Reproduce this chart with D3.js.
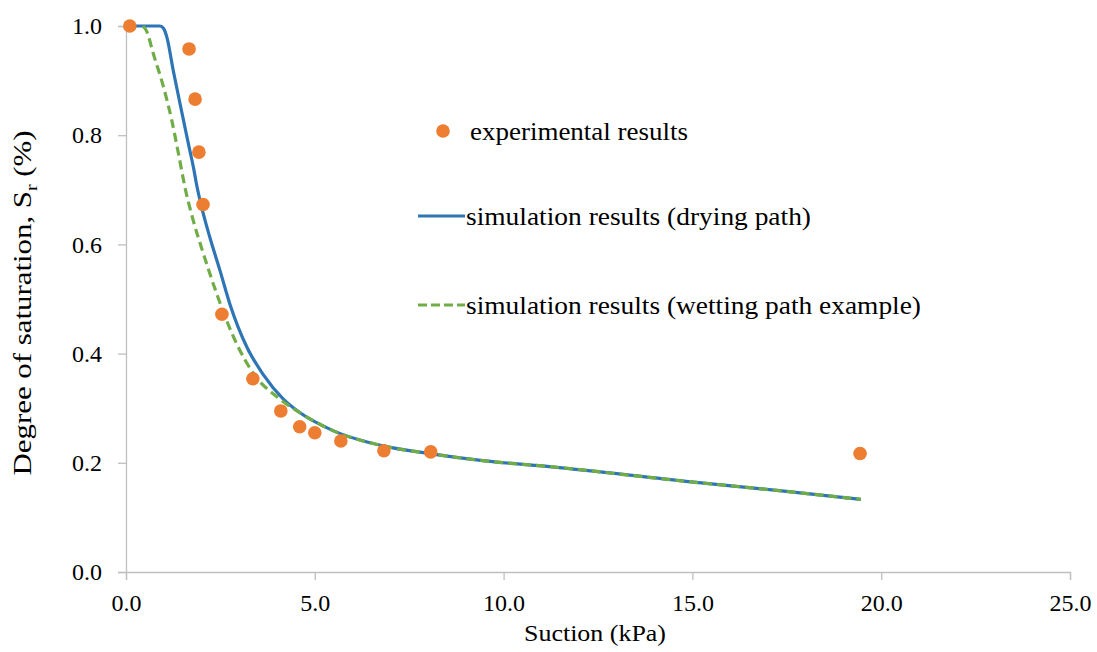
<!DOCTYPE html>
<html><head><meta charset="utf-8">
<script src="https://cdn.jsdelivr.net/npm/d3@7"></script>
<style>body{margin:0;background:#fff}svg{display:block}text{font-family:'Liberation Serif','Times New Roman',Times,'DejaVu Serif',serif;fill:#000}</style>
</head><body><svg id="c" width="1097" height="652"></svg>
<script>
const expX = [0.1, 1.67, 1.83, 1.93, 2.04, 2.54, 3.36, 4.10, 4.60, 5.0, 5.69, 6.83, 8.07, 19.44];
const expY = [1.0, 0.958, 0.866, 0.769, 0.673, 0.472, 0.354, 0.295, 0.266, 0.255, 0.240, 0.222, 0.220, 0.217];
const dryX = [0.1, 0.90, 1.0, 1.08, 1.25, 1.43, 1.65, 1.80, 1.86, 2.00, 2.22, 2.49, 2.75, 3.20, 3.65, 4.16, 4.60, 5.48, 6.81, 8.13, 9.45, 11.22, 14.97, 17.30, 19.46];
const dryY = [1.0, 1.0, 0.995, 0.980, 0.919, 0.858, 0.785, 0.736, 0.713, 0.669, 0.613, 0.552, 0.491, 0.412, 0.360, 0.317, 0.292, 0.259, 0.231, 0.216, 0.204, 0.193, 0.165, 0.149, 0.133];
const wetX = [0.45, 0.55, 0.72, 0.99, 1.21, 1.39, 1.56, 1.78, 2.05, 2.40, 2.93, 3.35, 4.07, 4.60, 5.48, 6.81, 8.13, 9.45, 11.22, 14.97, 17.30, 19.46];
const wetY = [1.0, 0.99, 0.950, 0.889, 0.828, 0.766, 0.705, 0.644, 0.583, 0.510, 0.418, 0.366, 0.317, 0.292, 0.259, 0.231, 0.216, 0.204, 0.193, 0.165, 0.149, 0.133];
const xTicks = [0, 5, 10, 15, 20, 25];
const yTicks = [0, 0.2, 0.4, 0.6, 0.8, 1.0];
const legendLabels = ["experimental results", "simulation results (drying path)", "simulation results (wetting path example)"];

const FONT = "'Liberation Serif','Times New Roman',Times,'DejaVu Serif',serif";
const svg = d3.select("#c");
const x = d3.scaleLinear().domain([0, 25]).range([126, 1070]);
const y = d3.scaleLinear().domain([0, 1]).range([572, 26]);
const axisCol = "#bfbfbf";

const xa = svg.append("g").attr("transform", `translate(0,${y(0)})`)
  .call(d3.axisBottom(x).tickValues(xTicks).tickFormat(d3.format(".1f")).tickSize(8).tickPadding(14));
const ya = svg.append("g").attr("transform", `translate(${x(0)},0)`)
  .call(d3.axisLeft(y).tickValues(yTicks).tickFormat(d3.format(".1f")).tickSize(8).tickPadding(16));
[xa, ya].forEach(a => {
  a.attr("font-family", FONT);
  a.selectAll("path,line").attr("stroke", axisCol).attr("stroke-width", 1.3);
  a.selectAll("text").attr("font-family", FONT).style("font-size", "24px").attr("fill", "#000");
});

const line = d3.line().x(d => x(d[0])).y(d => y(d[1])).curve(d3.curveMonotoneX);
svg.append("path").datum(dryX.map((v, i) => [v, dryY[i]])).attr("d", line)
  .attr("fill", "none").attr("stroke", "#2e75b6").attr("stroke-width", 3.2);
svg.append("path").datum(wetX.map((v, i) => [v, wetY[i]])).attr("d", line)
  .attr("fill", "none").attr("stroke", "#70ad47").attr("stroke-width", 3.2).attr("stroke-dasharray", "9,5");
svg.append("g").selectAll("circle").data(expX.map((v, i) => [v, expY[i]])).join("circle")
  .attr("cx", d => x(d[0])).attr("cy", d => y(d[1])).attr("r", 6.8).attr("fill", "#ed7d31");

// legend
const lg = svg.append("g");
lg.append("circle").attr("cx", 443).attr("cy", 131).attr("r", 6.8).attr("fill", "#ed7d31");
lg.append("line").attr("x1", 418).attr("x2", 465).attr("y1", 216).attr("y2", 216).attr("stroke", "#2e75b6").attr("stroke-width", 3.2);
lg.append("line").attr("x1", 418).attr("x2", 465).attr("y1", 305).attr("y2", 305).attr("stroke", "#70ad47").attr("stroke-width", 3.2).attr("stroke-dasharray", "9,4");
const legW = [218, 345, 455];
[[470, 131], [466, 216], [466, 305]].forEach((p, i) => {
  lg.append("text").attr("x", p[0]).attr("y", p[1]).attr("dy", "0.35em").attr("font-family", FONT)
    .style("font-size", "25px").attr("textLength", legW[i]).attr("lengthAdjust", "spacingAndGlyphs").text(legendLabels[i]);
});

// axis titles
svg.append("text").attr("x", 595).attr("y", 641).attr("text-anchor", "middle").attr("font-family", FONT)
  .style("font-size", "24px").attr("textLength", 142).attr("lengthAdjust", "spacingAndGlyphs").text("Suction (kPa)");
const yt = svg.append("text").attr("transform", "translate(31,303) rotate(-90)").attr("text-anchor", "middle").attr("font-family", FONT).style("font-size", "25px")
  .attr("textLength", 345).attr("lengthAdjust", "spacingAndGlyphs");
yt.append("tspan").text("Degree of saturation, S");
yt.append("tspan").attr("dy", 6).style("font-size", "16px").text("r");
yt.append("tspan").attr("dy", -6).text(" (%)");
</script></body></html>
